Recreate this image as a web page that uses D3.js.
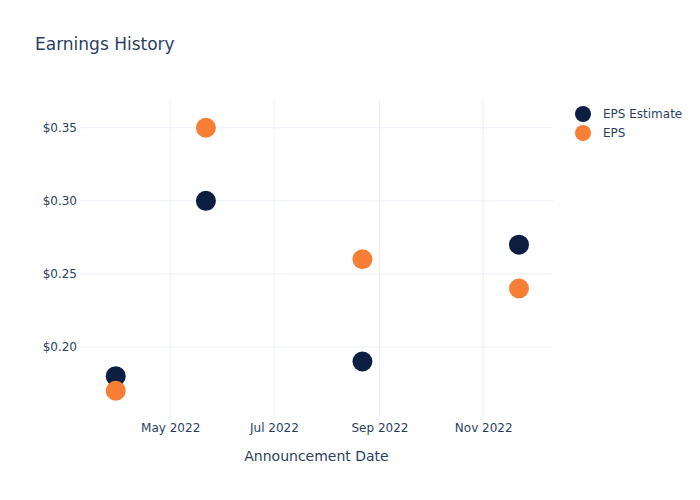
<!DOCTYPE html>
<html>
<head>
<meta charset="utf-8">
<script src="https://cdn.jsdelivr.net/npm/d3@7"></script>
<style>
  body { margin: 0; background: #fff; }
  text { font-family: "DejaVu Sans", sans-serif; fill: #2a3f5f; }
</style>
</head>
<body>
<div id="chart"></div>
<script>
// Announcement dates and values
const dates = ["2022-03-30", "2022-05-22", "2022-08-22", "2022-11-22"];
const epsEstimate = [0.18, 0.30, 0.19, 0.27];
const eps = [0.17, 0.35, 0.26, 0.24];
const yTicks = [0.20, 0.25, 0.30, 0.35];
const xTicks = ["2022-05-01", "2022-07-01", "2022-09-01", "2022-11-01"];

const series = [
    { name: "EPS Estimate", values: epsEstimate, color: "#0c1f42" },
    { name: "EPS", values: eps, color: "#f77f35" }
];

const width = 700, height = 500;
const margin = { top: 100, right: 147, bottom: 80, left: 80 };
const parse = d3.utcParse("%Y-%m-%d");

const svg = d3.select("#chart")
    .append("svg")
    .attr("width", width)
    .attr("height", height);

const x = d3.scaleUtc()
    .domain([parse("2022-03-09"), parse("2022-12-12")])
    .range([margin.left, width - margin.right]);

const y = d3.scaleLinear()
    .domain([0.15, 0.369])
    .range([height - margin.bottom, margin.top]);

// Gridlines
svg.append("g")
    .selectAll("line")
    .data(xTicks)
    .enter()
    .append("line")
    .attr("x1", d => x(parse(d)))
    .attr("x2", d => x(parse(d)))
    .attr("y1", margin.top)
    .attr("y2", height - margin.bottom)
    .attr("stroke", "#ebf0f8");

svg.append("g")
    .selectAll("line")
    .data(yTicks)
    .enter()
    .append("line")
    .attr("x1", margin.left)
    .attr("x2", width - margin.right)
    .attr("y1", d => y(d))
    .attr("y2", d => y(d))
    .attr("stroke", "#ebf0f8");

// Axes
const xAxis = svg.append("g")
    .attr("transform", "translate(0," + (height - margin.bottom) + ")")
    .call(d3.axisBottom(x)
        .tickValues(xTicks.map(parse))
        .tickFormat(d3.utcFormat("%b %Y"))
        .tickSize(0)
        .tickPadding(3));

const yAxis = svg.append("g")
    .attr("transform", "translate(" + margin.left + ",0)")
    .call(d3.axisLeft(y)
        .tickValues(yTicks)
        .tickFormat(d => "$" + d3.format(".2f")(d))
        .tickSize(0)
        .tickPadding(3));

[xAxis, yAxis].forEach(g => {
    g.select(".domain").remove();
    g.selectAll("text").style("font-size", "12px").attr("fill", "#2a3f5f");
});

// Markers
series.forEach(s => {
    svg.append("g")
        .selectAll("circle")
        .data(s.values)
        .enter()
        .append("circle")
        .attr("cx", (d, i) => x(parse(dates[i])))
        .attr("cy", d => y(d))
        .attr("r", 10)
        .attr("fill", s.color);
});

// Title and axis title
svg.append("text")
    .attr("x", 35)
    .attr("y", 50)
    .style("font-size", "17px")
    .text("Earnings History");

svg.append("text")
    .attr("x", (margin.left + width - margin.right) / 2)
    .attr("y", 461)
    .attr("text-anchor", "middle")
    .style("font-size", "14px")
    .text("Announcement Date");

// Legend
const legend = svg.append("g")
    .selectAll("g")
    .data(series)
    .enter()
    .append("g")
    .attr("transform", (d, i) => "translate(583," + (114 + i * 19) + ")");

legend.append("circle")
    .attr("r", 8)
    .attr("fill", d => d.color);

legend.append("text")
    .attr("x", 20)
    .attr("y", 4)
    .style("font-size", "12px")
    .text(d => d.name);
</script>
</body>
</html>
